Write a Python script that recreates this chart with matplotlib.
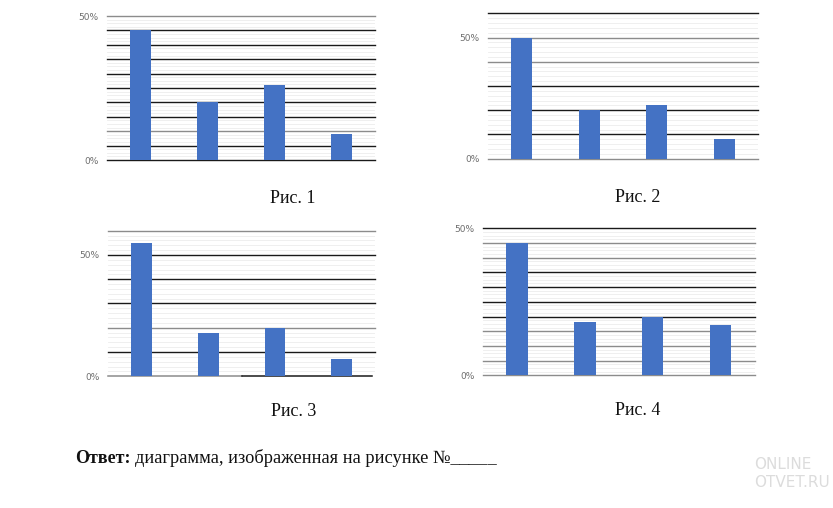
import numpy as np
import matplotlib
matplotlib.use("Agg")
import matplotlib.pyplot as plt

# values (percent)
categories = ["A", "B", "C", "D"]
fig1_vals = [45, 20, 26, 9]
fig2_vals = [50, 20, 22, 8]
fig3_vals = [55, 18, 20, 7]
fig4_vals = [45, 18, 20, 17]
captions = ["Рис. 1", "Рис. 2", "Рис. 3", "Рис. 4"]

BLUE = "#4472c4"
DARK = "#1a1a1a"
GREY = "#8c8c8c"

# (axes rect, values, ymax, major step, colours of major lines from 0 upward, caption xy)
panels = [
    ([0.1285, 0.685, 0.3217, 0.2835], fig1_vals, 50, 5,
     [DARK, DARK, GREY, DARK, DARK, DARK, DARK, DARK, DARK, DARK, GREY], (0.352, 0.610)),
    ([0.5858, 0.6876, 0.3241, 0.2862], fig2_vals, 60, 10,
     [GREY, DARK, DARK, DARK, GREY, GREY, DARK], (0.766, 0.612)),
    ([0.1297, 0.2593, 0.3205, 0.2866], fig3_vals, 60, 10,
     [GREY, DARK, GREY, DARK, DARK, DARK, GREY], (0.352, 0.190)),
    ([0.5798, 0.2612, 0.3265, 0.2894], fig4_vals, 50, 5,
     [GREY, GREY, GREY, GREY, DARK, DARK, DARK, DARK, GREY, GREY, DARK], (0.766, 0.191)),
]

fig = plt.figure(figsize=(8.33, 5.08), dpi=100)
fig.patch.set_facecolor("white")

for i, (rect, vals, ymax, step, cols, cap) in enumerate(panels):
    ax = fig.add_axes(rect)
    x = np.arange(len(categories))
    # faint minor lines
    for y in np.arange(0, ymax, 1.25 if step == 5 else 2.0):
        ax.axhline(y, color="#ececec", lw=0.6, zorder=0)
    for k, y in enumerate(np.arange(0, ymax + 0.1, step)):
        if i == 2 and y == 0:
            # baseline is grey on the left half, black on the right
            ax.axhline(0, xmin=0, xmax=0.5, color=GREY, lw=1.1, zorder=1, clip_on=False)
            ax.axhline(0, xmin=0.5, xmax=0.99, color=DARK, lw=1.1, zorder=1, clip_on=False)
            continue
        ax.axhline(y, color=cols[k], lw=1.0, zorder=1, clip_on=False)
    ax.bar(x, vals, width=0.31, color=BLUE, zorder=2)
    ax.set_xlim(-0.5, 3.5)
    ax.set_ylim(0, ymax)
    ax.set_xticks([])
    ax.set_yticks([0, 50])
    ax.set_yticklabels(["0%", "50%"], fontsize=6.5, color="#6e6e6e")
    ax.tick_params(axis="y", length=0, pad=6)
    for s in ax.spines.values():
        s.set_visible(False)
    fig.text(cap[0], cap[1], captions[i], fontsize=13, family="Liberation Serif",
             ha="center", va="center", color="#111111")

t1 = fig.text(0.090, 0.098, "Ответ:", fontsize=13, family="Liberation Serif",
              fontweight="bold", ha="left", va="center", color="#111111")
fig.canvas.draw()
bb = t1.get_window_extent().transformed(fig.transFigure.inverted())
fig.text(bb.x1 + 0.006, 0.098, "диаграмма, изображенная на рисунке №_____", fontsize=13.2,
         family="Liberation Serif", ha="left", va="center", color="#111111")

# faint watermark
fig.text(0.905, 0.068, "ONLINE\nOTVET.RU", fontsize=11, family="DejaVu Sans Condensed",
         color="#dcdcdc", ha="left", va="center", linespacing=1.2)

fig.savefig("out.png", dpi=100, facecolor="white")
